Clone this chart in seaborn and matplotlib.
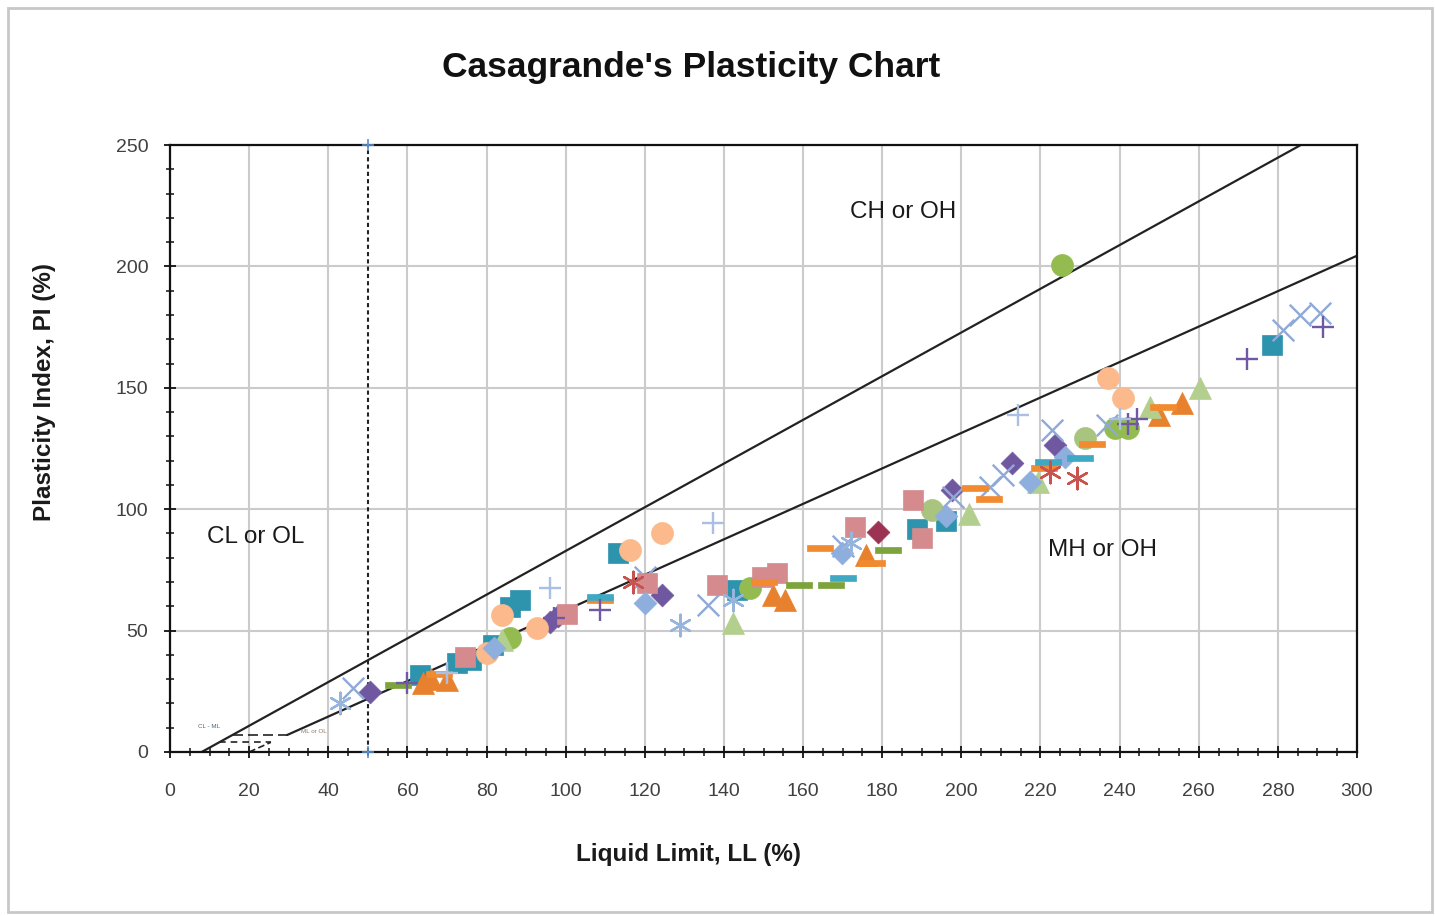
import matplotlib
matplotlib.use("Agg")
import matplotlib.pyplot as plt
from matplotlib.patches import Rectangle
from matplotlib.ticker import MultipleLocator
import seaborn as sns

# ---- data (LL %, PI %) ----
teal_sq_ll = [63.2, 72.5, 76, 81.6, 86, 88.5, 113.2, 143.3, 188.8, 196, 278.5]
teal_sq_pi = [31.7, 36.6, 38, 44, 59.7, 62.6, 82, 66.7, 92, 95, 167.6]

orange_tri_ll = [64, 66, 70, 152.4, 155.4, 176, 250, 255.7]
orange_tri_pi = [28.4, 30, 29.6, 64.7, 62.6, 81, 139, 143.7]

green_circ_ll = [86, 146.6, 225.4, 238.8, 242]
green_circ_pi = [47, 67.5, 200.6, 133.4, 133.5]

ltgreen_circ_ll = [192.6, 231.2]
ltgreen_circ_pi = [99.7, 129.3]

purple_dia_ll = [50.5, 96, 98, 124.3, 197.6, 212.8, 223.7]
purple_dia_pi = [24.7, 53.5, 56, 64.7, 108, 119, 126.4]

ltblue_x_ll = [46.3, 120, 136, 170, 198, 207.2, 210.5, 223, 236.8, 281.3, 285.6, 290.6]
ltblue_x_pi = [26.4, 72, 60.5, 85, 105, 109, 114, 132.6, 134.7, 174, 180, 181]

pink_sq_ll = [74.6, 100.3, 120.5, 138.2, 149.6, 153.4, 173, 187.8, 190]
pink_sq_pi = [39, 57, 69.6, 68.8, 72, 73.7, 92.7, 103.8, 88]

peach_circ_ll = [80, 84, 92.7, 116.2, 124.3, 237, 240.8]
peach_circ_pi = [40.7, 56.4, 51, 83, 90, 154, 146]

ltgreen_tri_ll = [84, 142.3, 202, 219.4, 247.7, 260.3]
ltgreen_tri_pi = [46, 53, 98, 111, 142, 150]

ltblue_dia_ll = [82, 120, 169.9, 196, 217.3, 226.2]
ltblue_dia_pi = [43, 61.3, 82, 97, 111, 121.5]

orange_dash_ll = [68, 108.7, 150, 164.3, 177.5, 203.4, 207, 221, 233, 251]
orange_dash_pi = [32, 62.6, 70, 84, 77.8, 108.7, 104, 117, 127, 142]

green_dash_ll = [57.6, 159, 167, 181.5]
green_dash_pi = [27.6, 68.8, 68.8, 83]

teal_dash_ll = [108.7, 170, 222, 230]
teal_dash_pi = [64, 71.6, 119.4, 121]

red_ast_ll = [117, 222.4, 229.2]
red_ast_pi = [70, 115.3, 113]

purple_plus_ll = [60, 97, 108.7, 242, 244.5, 272.2, 291.4]
purple_plus_pi = [28.4, 55, 58.5, 135, 137, 162, 175]

ltblue_plus_ll = [70, 96, 137.2, 214.3, 240]
ltblue_plus_pi = [32.5, 67.5, 94.3, 138.8, 137]

ltblue_ast_ll = [43, 128.9, 142.3, 172]
ltblue_ast_pi = [20, 52.3, 62.6, 86]

maroon_dia_ll = [179]
maroon_dia_pi = [90.5]

# boundary lines (end points)
u_line_ll = [8, 285.8]
u_line_pi = [0, 250]
a_line_ll = [29.6, 300]
a_line_pi = [7, 204.4]
a_ext_ll = [20, 25.5]
a_ext_pi = [0, 4]
clml_top_ll = [15.8, 29.6]
clml_top_pi = [7, 7]
clml_bot_ll = [12.4, 25.5]
clml_bot_pi = [4, 4]
ll50_ll = [50, 50]
ll50_pi = [0, 250]

dash = [(-1, -0.24), (1, -0.24), (1, 0.24), (-1, 0.24), (-1, -0.24)]
asterisk = (6, 2, 0)

series = [
    (teal_sq_ll, teal_sq_pi, "s", "#2e93ad", 200),
    (orange_tri_ll, orange_tri_pi, "^", "#e8812e", 250),
    (green_circ_ll, green_circ_pi, "o", "#94bb4f", 250),
    (ltgreen_circ_ll, ltgreen_circ_pi, "o", "#a9c47f", 250),
    (purple_dia_ll, purple_dia_pi, "D", "#6f58a0", 135),
    (ltblue_x_ll, ltblue_x_pi, "x", "#8faad8", 240),
    (pink_sq_ll, pink_sq_pi, "s", "#d58b8d", 200),
    (peach_circ_ll, peach_circ_pi, "o", "#fbb98c", 250),
    (ltgreen_tri_ll, ltgreen_tri_pi, "^", "#b3cf8e", 250),
    (ltblue_dia_ll, ltblue_dia_pi, "D", "#8eaedd", 135),
    (orange_dash_ll, orange_dash_pi, dash, "#f28a30", 360),
    (green_dash_ll, green_dash_pi, dash, "#7da43c", 360),
    (teal_dash_ll, teal_dash_pi, dash, "#3fa9c4", 360),
    (red_ast_ll, red_ast_pi, asterisk, "#c9524e", 240),
    (purple_plus_ll, purple_plus_pi, "+", "#7158a3", 240),
    (ltblue_plus_ll, ltblue_plus_pi, "+", "#a9c0e3", 240),
    (ltblue_ast_ll, ltblue_ast_pi, asterisk, "#97b5dc", 240),
    (maroon_dia_ll, maroon_dia_pi, "D", "#9c3352", 135),
]

sns.set_theme(style="white")
plt.rcParams["font.family"] = ["Liberation Sans", "DejaVu Sans"]

fig = plt.figure(figsize=(14.35, 9.16), dpi=100)
ax = fig.add_axes([170 / 1435, 1 - 752 / 916, 1187 / 1435, 607 / 916])

# boundary lines
ax.plot(u_line_ll, u_line_pi, color="#222222", lw=1.6, zorder=2)
ax.plot(a_line_ll, a_line_pi, color="#222222", lw=1.6, zorder=2)
ax.plot(a_ext_ll, a_ext_pi, color="#222222", lw=1.2, ls=(0, (4, 2)), zorder=2)
ax.plot(clml_top_ll, clml_top_pi, color="#222222", lw=1.2, ls=(0, (6, 3)), zorder=2)
ax.plot(clml_bot_ll, clml_bot_pi, color="#222222", lw=1.2, ls=(0, (4, 3)), zorder=2)
ax.plot(ll50_ll, ll50_pi, color="#222222", lw=1.5, ls=(0, (2, 1.5)), zorder=2)
ax.plot(ll50_ll, ll50_pi, ls="none", marker="+", ms=8, mew=1.2, color="#5b8fd0",
        zorder=5, clip_on=False)

for ll, pi, m, c, s in series:
    filled = not (m in ("x", "+") or m == asterisk)
    if filled:
        sns.scatterplot(x=ll, y=pi, marker=m, s=s, color=c, edgecolor=c,
                        linewidth=0.5, ax=ax, zorder=3)
    else:
        sns.scatterplot(x=ll, y=pi, marker=m, s=s, color=c,
                        linewidth=1.7, ax=ax, zorder=3)

ax.set_xlim(0, 300)
ax.set_ylim(0, 250)
ax.xaxis.set_major_locator(MultipleLocator(20))
ax.xaxis.set_minor_locator(MultipleLocator(5))
ax.yaxis.set_major_locator(MultipleLocator(50))
ax.yaxis.set_minor_locator(MultipleLocator(10))
ax.grid(True, which="major", color="#cbcbcb", lw=1.5)
ax.set_axisbelow(True)
ax.tick_params(which="major", direction="inout", length=9, width=1.3, color="#111111",
               labelsize=14, labelcolor="#404040", left=True, bottom=True)
ax.tick_params(axis="x", which="major", pad=18)
ax.tick_params(axis="y", which="major", pad=11)
ax.tick_params(which="minor", direction="inout", length=6, width=1.1, color="#111111",
               left=True, bottom=True)
for sp in ax.spines.values():
    sp.set_color("#111111")
    sp.set_linewidth(1.6)
ax.set_xlabel("")
ax.set_ylabel("")

# zone labels
ax.text(171.8, 222.4, "CH or OH", fontsize=17.5, color="#1a1a1a", va="center")
ax.text(9.4, 88.5, "CL or OL", fontsize=17.5, color="#1a1a1a", va="center")
ax.text(221.9, 83.2, "MH or OH", fontsize=17.5, color="#1a1a1a", va="center")
ax.text(7, 10.5, "CL - ML", fontsize=4.5, color="#50657a", va="center")
ax.text(33, 8.3, "ML or OL", fontsize=4.5, color="#8a7a6a", va="center")

fig.text(691 / 1435, 1 - 68 / 916, "Casagrande's Plasticity Chart", fontsize=25.5,
         fontweight="bold", ha="center", va="center", color="#111111")
fig.text(688 / 1435, 1 - 855 / 916, "Liquid Limit, LL (%)", fontsize=17.5,
         fontweight="bold", ha="center", va="center", color="#1a1a1a")
fig.text(45 / 1435, 1 - 392 / 916, "Plasticity Index, PI (%)", fontsize=17.5,
         fontweight="bold", ha="center", va="center", rotation=90, color="#1a1a1a")

# chart area border
fig.patches.append(Rectangle((8 / 1435, 4 / 916), 1424 / 1435, 904 / 916,
                             transform=fig.transFigure, fill=False,
                             edgecolor="#c8c8c8", lw=2))

fig.savefig("out.png", dpi=100)
